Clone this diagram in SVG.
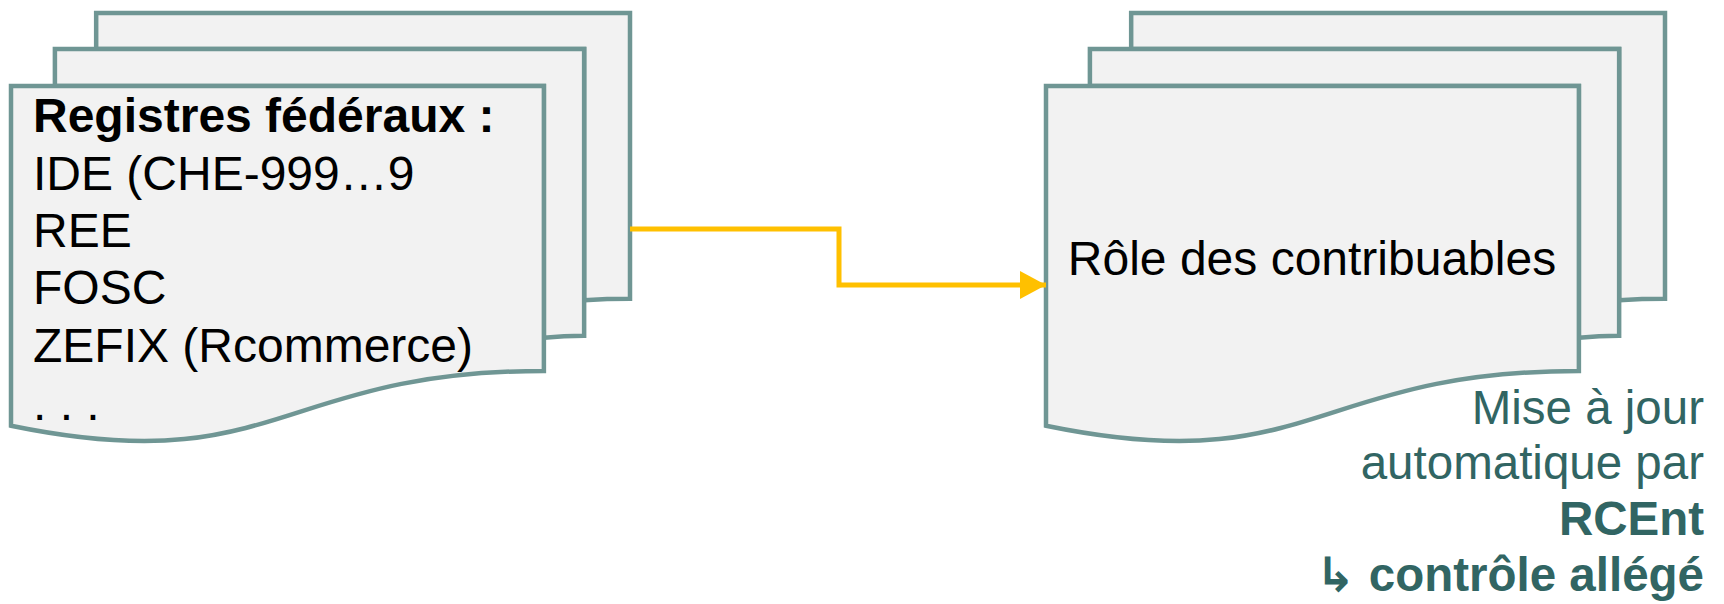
<svg xmlns="http://www.w3.org/2000/svg" width="1724" height="604" viewBox="0 0 1724 604">
<defs>
<style>
.pg{fill:#F2F2F2;stroke:#6F9694;stroke-width:4.5;stroke-linejoin:miter}
.t{font-family:"Liberation Sans",Arial,sans-serif;font-size:48px;fill:#000}
.b{font-weight:bold}
.note{font-family:"Liberation Sans",Arial,sans-serif;font-size:47.5px;fill:#316563;text-anchor:end}
.con{fill:none;stroke:#FFC000;stroke-width:5}
</style>
<marker id="ah" markerUnits="userSpaceOnUse" markerWidth="28" markerHeight="30" refX="26" refY="14" orient="auto" overflow="visible">
<path d="M0,0 L26,14 L0,28 Z" fill="#FFC000"/>
</marker>
<g id="multidoc">
<path class="pg" d="M85.17,36.05 L85.17,0 L619,0 L619,285.84 C596.07,285.84 573.14,287.33 573.14,287.33 L573.14,36.05 Z"/>
<path class="pg" d="M43.9,72.99 L43.9,36.05 L573.14,36.05 L573.14,322.78 C553.02,322.78 532.89,324.77 532.89,324.77 L532.89,72.99 Z"/>
<path class="pg" d="M0,412.75 C266.45,467.57 266.45,357.94 532.89,357.94 L532.89,72.99 L0,72.99 Z"/>
</g>
</defs>

<g id="registres-federaux">
<use href="#multidoc" x="11" y="13"/>
<text class="t b" x="33" y="132">Registres fédéraux :</text>
<text class="t" x="33" y="190">IDE (CHE-999…9</text>
<text class="t" x="33" y="247">REE</text>
<text class="t" x="33" y="304">FOSC</text>
<text class="t" x="33" y="362">ZEFIX (Rcommerce)</text>
<text class="t" x="33" y="420">. . .</text>
</g>

<g id="role-contribuables">
<use href="#multidoc" x="1046" y="13"/>
<text class="t" x="1312" y="275" text-anchor="middle">Rôle des contribuables</text>
</g>

<g id="note-rcent">
<text class="note" x="1704" y="424">Mise à jour</text>
<text class="note" x="1704" y="479">automatique par</text>
<text class="note b" x="1704" y="535">RCEnt</text>
<text class="note b" x="1704" y="591"><tspan font-family="'DejaVu Sans',sans-serif" font-weight="bold">↳</tspan> contrôle allégé</text>
</g>

<g id="connectors">
<path class="con" d="M630,229 H839 V285 H1046" marker-end="url(#ah)"/>
</g>
</svg>
